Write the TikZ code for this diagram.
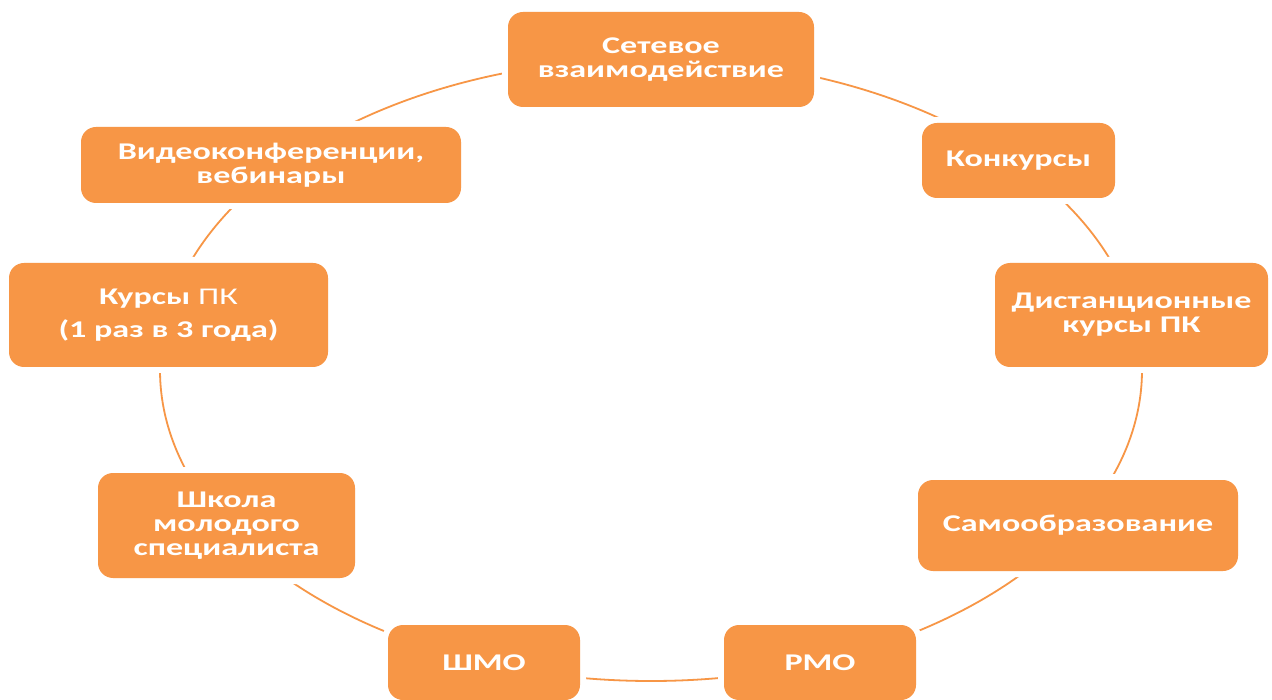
\documentclass[tikz,border=0pt]{standalone}
\usepackage{fontspec}
\setmainfont{Carlito}[FakeStretch=1.42]
\definecolor{orng}{HTML}{F79646}
\begin{document}
\begin{tikzpicture}[x=1pt,y=-1pt,
  box/.style={preaction={draw=white, line width=12pt, rounded corners=15pt},
    fill=orng, rounded corners=15pt, text=white,
    font=\bfseries\fontsize{24}{24}\selectfont, align=center, inner sep=0pt},
  ring/.style={draw=orng, line width=1.8pt}]
\useasboundingbox (0,0) rectangle (1272,700);
\fill[white] (0,0) rectangle (1272,700);
\coordinate (c) at (651,370);
\draw[ring] (c) ellipse [x radius=491, y radius=311];
\node[box, minimum width=306pt, minimum height=95pt] (net) at (661,59.5) {Сетевое\\взаимодействие};
\node[box, minimum width=193pt, minimum height=75pt] (konk) at (1018.5,160.5) {Конкурсы};
\node[box, minimum width=273pt, minimum height=104pt] (dist) at (1131.5,315) {Дистанционные\\курсы ПК};
\node[box, minimum width=320pt, minimum height=91pt] (samo) at (1078,525.5) {Самообразование};
\node[box, minimum width=192pt, minimum height=75pt] (rmo) at (820,662.5) {РМО};
\node[box, minimum width=192pt, minimum height=75pt] (shmo) at (484,662.5) {ШМО};
\node[box, minimum width=257pt, minimum height=105pt] (shkola) at (226.5,525.5) {Школа\\молодого\\специалиста};
\node[box, minimum width=319pt, minimum height=104pt, font=\bfseries\fontsize{24}{33}\selectfont] (kursy) at (168.5,315) {Курсы {\mdseries ПК}\\(1 раз в 3 года)};
\node[box, minimum width=380pt, minimum height=76pt] (video) at (271,165) {Видеоконференции,\\вебинары};
\end{tikzpicture}
\end{document}
